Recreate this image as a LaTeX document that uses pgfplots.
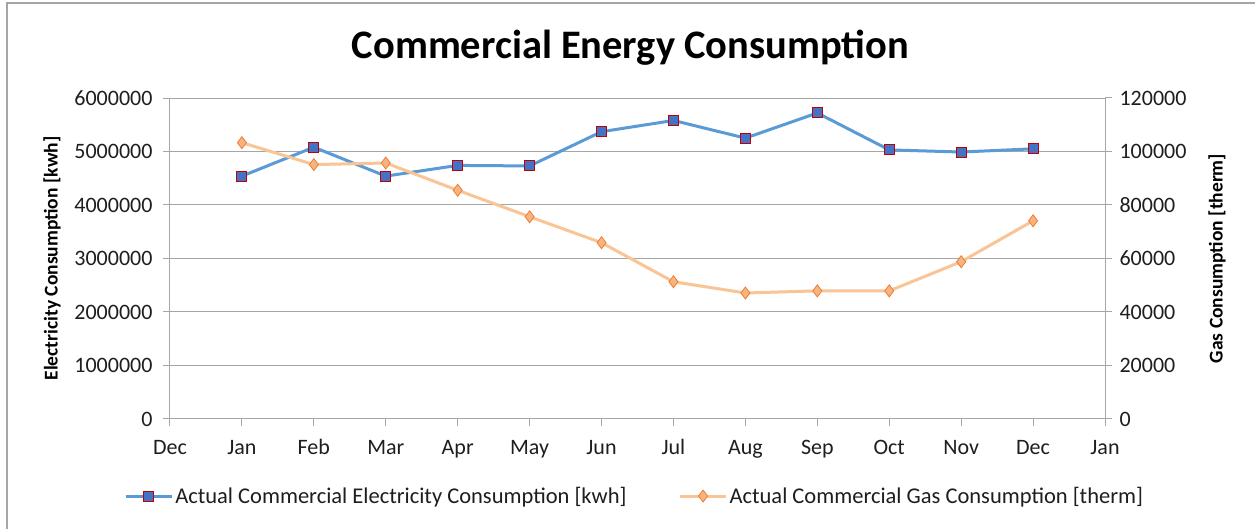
\documentclass[border=0pt]{standalone}
\usepackage{pgfplots}
\pgfplotsset{compat=1.18}
\usepackage{fontspec}
\setmainfont{Carlito}
\definecolor{eline}{RGB}{91,155,213}
\definecolor{efill}{RGB}{68,114,196}
\definecolor{edraw}{RGB}{192,0,0}
\definecolor{gline}{RGB}{249,196,150}
\definecolor{gfill}{RGB}{248,180,128}
\definecolor{gdraw}{RGB}{237,125,49}
\definecolor{gridc}{RGB}{166,166,166}
\definecolor{txt}{RGB}{30,30,30}
\pgfplotsset{
  common/.style={
    at={(0,0)}, anchor=south west, scale only axis,
    width=935pt, height=321pt,
    xmin=0, xmax=13,
    axis line style={gridc, line width=1pt},
    tick style={gridc, line width=1pt},
    major tick length=7pt,
    tick align=outside,
    scaled y ticks=false,
    /pgf/number format/assume math mode=true,
    ticklabel style={font=\fontsize{22}{24}\selectfont, text=txt},
    yticklabel style={/pgf/number format/fixed, /pgf/number format/precision=0, /pgf/number format/1000 sep={}},
    label style={font=\fontsize{19.5}{22}\selectfont\bfseries, text=black},
    legend image code/.code={\draw[mark repeat=2,mark phase=2,#1] plot coordinates {(0pt,0pt) (23pt,0pt) (46pt,0pt)};},
  },
  estyle/.style={eline, line width=3pt, mark=square*, mark size=5pt, mark options={fill=efill, draw=edraw, line width=1pt, solid}},
  gstyle/.style={gline, line width=3pt, mark=diamond*, mark size=6pt, mark options={fill=gfill, draw=gdraw, line width=0.8pt, solid}},
}
\begin{document}
\begin{tikzpicture}
\useasboundingbox (-170pt,-110pt) rectangle (1085pt,419pt);
\fill[white] (-170pt,-110pt) rectangle (1085pt,419pt);
\draw[gridc, line width=1.5pt] (-163pt,-115pt) -- (-163pt,416pt) -- (1090pt,416pt);
\begin{axis}[common,
  ymin=0, ymax=6000000,
  axis x line*=bottom, axis y line*=left,
  xtick={0,...,13},
  xticklabels={Dec,Jan,Feb,Mar,Apr,May,Jun,Jul,Aug,Sep,Oct,Nov,Dec,Jan},
  ytick={0,1000000,...,6000000},
  ymajorgrids, grid style={gridc, line width=1pt},
  xticklabel style={text height=16pt, text depth=5pt, yshift=-9pt},
  yticklabel style={xshift=-7pt},
  ylabel={Electricity Consumption [kwh]},
  ylabel style={at={(axis description cs:-0.1262,0.5)}, anchor=center, rotate=0},
  title={Commercial Energy Consumption},
  title style={at={(axis description cs:0.4925,1.105)}, anchor=base, font=\fontsize{40.5}{44}\selectfont\bfseries},
  legend style={at={(axis description cs:0.497,-0.24)}, anchor=center, draw=none, fill=none,
    legend columns=2, font=\fontsize{22.5}{24}\selectfont, text=txt,
    /tikz/every even column/.append style={column sep=50pt},
    /tikz/every odd column/.append style={column sep=0pt}},
  legend cell align=left,
]
\addplot[estyle] coordinates {
(1,4540000) (2,5080000) (3,4540000) (4,4740000) (5,4730000) (6,5370000)
(7,5580000) (8,5250000) (9,5720000) (10,5030000) (11,4990000) (12,5050000)};
\addlegendentry{Actual Commercial Electricity Consumption [kwh]}
\addlegendimage{gstyle}
\addlegendentry{Actual Commercial Gas Consumption [therm]}
\end{axis}
\begin{axis}[common,
  ymin=0, ymax=120000,
  axis x line=none, axis y line*=right,
  ytick={0,20000,...,120000},
  yticklabel style={xshift=4pt},
  ylabel={Gas Consumption [therm]},
  ylabel style={at={(axis description cs:1.1198,0.5)}, anchor=center, rotate=0},
]
\addplot[gstyle] coordinates {
(1,103300) (2,95100) (3,95700) (4,85500) (5,75600) (6,65900)
(7,51300) (8,47100) (9,47900) (10,47900) (11,58800) (12,74100)};
\end{axis}
\end{tikzpicture}
\end{document}
